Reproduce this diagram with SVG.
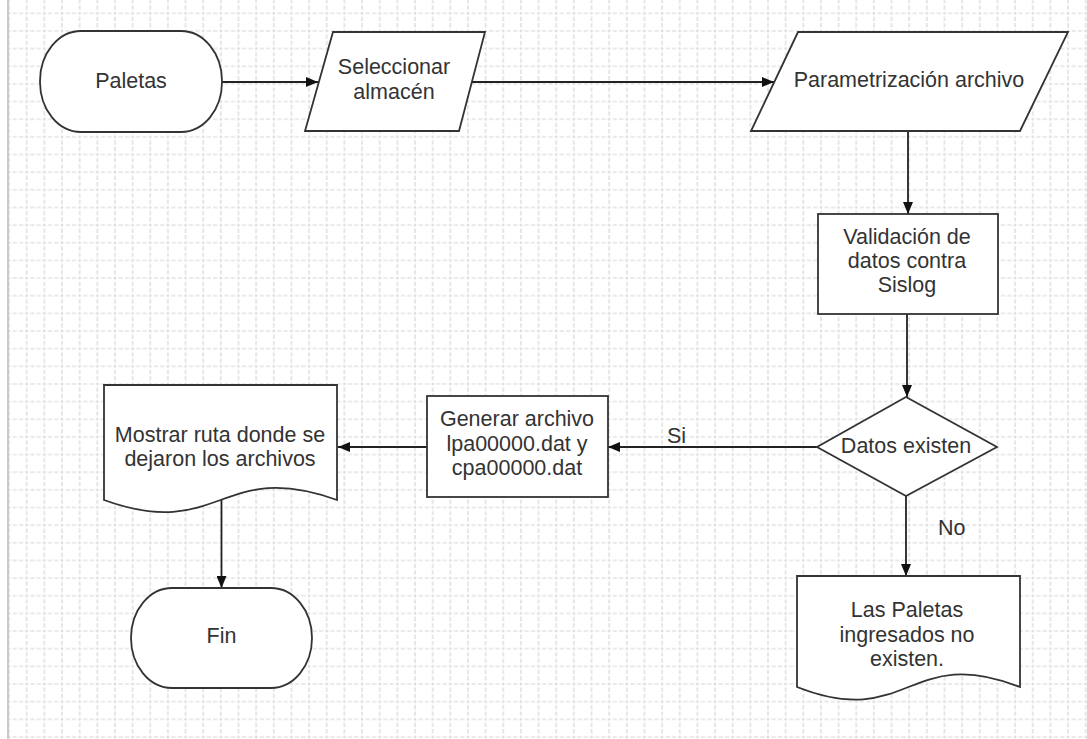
<svg xmlns="http://www.w3.org/2000/svg" width="1087" height="739" viewBox="0 0 1087 739">
<style>
.shape{fill:#fff;stroke:#333;stroke-width:1.8}
.conn{fill:none;stroke:#222;stroke-width:1.8}
.t{font-family:"Liberation Sans",Arial,sans-serif;font-size:21.5px;fill:#333;text-anchor:middle}
.lbl{font-family:"Liberation Sans",Arial,sans-serif;font-size:21.5px;fill:#333}
.g{stroke:#d6d6d6;stroke-width:1.2;fill:none;stroke-dasharray:0 1.025 4.3 2 3 2 4.3 1.025}
</style>
<defs>
<pattern id="grid" patternUnits="userSpaceOnUse" x="0.225" y="-13.175" width="17.65" height="17.65">
<line class="g" x1="0" y1="8.825" x2="17.65" y2="8.825"/>
<line class="g" x1="8.825" y1="0" x2="8.825" y2="17.65"/>
</pattern>
<marker id="arr" markerUnits="userSpaceOnUse" markerWidth="12" markerHeight="10" refX="12" refY="5" orient="auto">
<path d="M0,0 L12,5 L0,10 z" fill="#111"/>
</marker>
</defs>
<rect x="0" y="0" width="1087" height="739" fill="#fff"/>
<rect x="9" y="0" width="1078" height="739" fill="url(#grid)"/>
<line x1="8" y1="0" x2="8" y2="739" stroke="#bdbdbd" stroke-width="1.6"/>

<g id="connectors">
<line class="conn" x1="222" y1="82" x2="318" y2="82" marker-end="url(#arr)"/>
<line class="conn" x1="472" y1="82" x2="774" y2="82" marker-end="url(#arr)"/>
<line class="conn" x1="908" y1="131" x2="908" y2="214" marker-end="url(#arr)"/>
<line class="conn" x1="907" y1="314" x2="907" y2="397" marker-end="url(#arr)"/>
<line class="conn" x1="817" y1="447" x2="608" y2="447" marker-end="url(#arr)"/>
<line class="conn" x1="906" y1="496" x2="906" y2="576" marker-end="url(#arr)"/>
<line class="conn" x1="427" y1="447" x2="338" y2="447" marker-end="url(#arr)"/>
<line class="conn" x1="221.5" y1="500" x2="221.5" y2="588" marker-end="url(#arr)"/>
<text class="lbl" x="667" y="443">Si</text>
<text class="lbl" x="938" y="535">No</text>
</g>

<g id="paletas">
<rect class="shape" x="40" y="31" width="182" height="101" rx="41" ry="50"/>
<text class="t" x="131" y="88">Paletas</text>
</g>

<g id="seleccionar">
<polygon class="shape" points="333,32 485,32 459,131 305,131"/>
<text class="t" x="394" y="74">Seleccionar</text>
<text class="t" x="394" y="98.5">almacén</text>
</g>

<g id="parametrizacion">
<polygon class="shape" points="798,32 1068,32 1020,131 751,131"/>
<text class="t" x="909" y="87">Parametrización archivo</text>
</g>

<g id="validacion">
<rect class="shape" x="818" y="214" width="180" height="100"/>
<text class="t" x="907" y="244">Validación de</text>
<text class="t" x="907" y="268">datos contra</text>
<text class="t" x="907" y="292">Sislog</text>
</g>

<g id="datos-existen">
<polygon class="shape" points="906,397 997,447 906,496 817,447"/>
<text class="t" x="906" y="453">Datos existen</text>
</g>

<g id="generar">
<rect class="shape" x="427" y="396" width="181" height="101"/>
<text class="t" x="517" y="426">Generar archivo</text>
<text class="t" x="517" y="450.5">lpa00000.dat y</text>
<text class="t" x="517" y="475">cpa00000.dat</text>
</g>

<g id="mostrar">
<path class="shape" d="M104,385 H337 V500 C220.5,458 220.5,542 104,500 Z"/>
<text class="t" x="220" y="441.5">Mostrar ruta donde se</text>
<text class="t" x="220" y="465.5">dejaron los archivos</text>
</g>

<g id="no-existen">
<path class="shape" d="M797,576 H1020 V687 C908.5,643 908.5,731 797,687 Z"/>
<text class="t" x="907" y="617">Las Paletas</text>
<text class="t" x="907" y="641.5">ingresados no</text>
<text class="t" x="907" y="666">existen.</text>
</g>

<g id="fin">
<rect class="shape" x="131" y="588" width="181" height="100" rx="41" ry="50"/>
<text class="t" x="221.5" y="643">Fin</text>
</g>
</svg>
